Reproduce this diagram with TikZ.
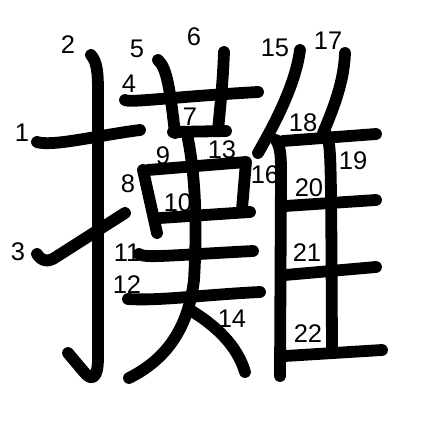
\documentclass[tikz,border=0pt]{standalone}
\usepackage{fontspec}
\setmainfont{Liberation Sans}
\begin{document}
\begin{tikzpicture}[x=1pt,y=-1pt,
  strk/.style={line width=11.8pt,line cap=round,line join=round},
  num/.style={font=\fontsize{25.5}{25.5}\selectfont,inner sep=0pt}]
\useasboundingbox[fill=white] (0,0) rectangle (447,447);
% strokes
\coordinate (s1a) at (37,142); \coordinate (s1b) at (140,130);
\draw[strk] (s1a) .. controls (52,147) and (100,135) .. (s1b);
\coordinate (s2a) at (91,55); \coordinate (s2b) at (68,353);
\draw[strk] (s2a) .. controls (97,62) and (98,72) .. (98,92) -- (98,358) .. controls (98,378) and (92,382) .. (84,372) -- (s2b);
\coordinate (s3a) at (37,254); \coordinate (s3b) at (125,213);
\draw[strk] (s3a) .. controls (42,262) and (49,262) .. (56,257) -- (s3b);
\coordinate (s4a) at (125,100); \coordinate (s4b) at (258,92);
\draw[strk] (s4a) .. controls (130,103) and (170,97) .. (s4b);
\coordinate (s5a) at (158,60); \coordinate (s5b) at (175,133);
\draw[strk] (s5a) .. controls (167,68) and (170,90) .. (s5b);
\coordinate (s6a) at (224,52); \coordinate (s6b) at (218,130);
\draw[strk] (s6a) .. controls (223,80) and (220,110) .. (s6b);
\coordinate (s7a) at (173,132); \coordinate (s7b) at (226,131);
\draw[strk] (s7a) -- (s7b);
\coordinate (s8a) at (143,170); \coordinate (s8b) at (157,233);
\draw[strk] (s8a) -- (s8b);
\coordinate (s9a) at (148,170); \coordinate (s9m) at (246,162); \coordinate (s9b) at (242,209);
\draw[strk] (s9a) -- (s9m) -- (s9b);
\coordinate (s10a) at (160,218); \coordinate (s10b) at (250,212);
\draw[strk] (s10a) -- (s10b);
\coordinate (s11a) at (139,254); \coordinate (s11b) at (253,251);
\draw[strk] (s11a) .. controls (145,258) and (160,256) .. (s11b);
\coordinate (s12a) at (128,299); \coordinate (s12b) at (260,292);
\draw[strk] (s12a) .. controls (160,301) and (200,295) .. (s12b);
\coordinate (s13a) at (188,139); \coordinate (s13b) at (129,378);
\draw[strk] (s13a) .. controls (196,180) and (197,230) .. (194,280) .. controls (188,330) and (165,360) .. (s13b);
\coordinate (s14a) at (190,310); \coordinate (s14b) at (245,372);
\draw[strk] (s14a) .. controls (215,325) and (237,345) .. (s14b);
\coordinate (s15a) at (300,50); \coordinate (s15b) at (258,153);
\draw[strk] (s15a) .. controls (296,80) and (280,115) .. (s15b);
\coordinate (s16a) at (276,140); \coordinate (s16b) at (280,376);
\draw[strk] (s16a) .. controls (281,148) and (281,158) .. (281,175) -- (s16b);
\coordinate (s17a) at (345,53); \coordinate (s17b) at (323,133);
\draw[strk] (s17a) .. controls (344,80) and (335,105) .. (s17b);
\coordinate (s18a) at (283,141); \coordinate (s18b) at (376,134);
\draw[strk] (s18a) -- (s18b);
\coordinate (s19a) at (327,135); \coordinate (s19b) at (332,348);
\draw[strk] (s19a) .. controls (331,150) .. (s19b);
\coordinate (s20a) at (285,206); \coordinate (s20b) at (376,200);
\draw[strk] (s20a) -- (s20b);
\coordinate (s21a) at (285,275); \coordinate (s21b) at (376,267);
\draw[strk] (s21a) -- (s21b);
\coordinate (s22a) at (285,356); \coordinate (s22b) at (382,350);
\draw[strk] (s22a) -- (s22b);
% labels
\node[num] (n1) at (22,133) {1};
\node[num] (n2) at (68,45) {2};
\node[num] (n3) at (18,252) {3};
\node[num] (n4) at (129,84) {4};
\node[num] (n5) at (137,49) {5};
\node[num] (n6) at (194,37) {6};
\node[num] (n7) at (190,117) {7};
\node[num] (n8) at (128,184) {8};
\node[num] (n9) at (163,156) {9};
\node[num] (n10) at (178,203) {10};
\node[num] (n11) at (127,253) {11};
\node[num] (n12) at (127,285) {12};
\node[num] (n13) at (222,150) {13};
\node[num] (n14) at (232,319) {14};
\node[num] (n15) at (275,48) {15};
\node[num] (n16) at (265,175) {16};
\node[num] (n17) at (328,41) {17};
\node[num] (n18) at (303,123) {18};
\node[num] (n19) at (353,161) {19};
\node[num] (n20) at (309,188) {20};
\node[num] (n21) at (307,253) {21};
\node[num] (n22) at (308,334) {22};
\end{tikzpicture}
\end{document}
